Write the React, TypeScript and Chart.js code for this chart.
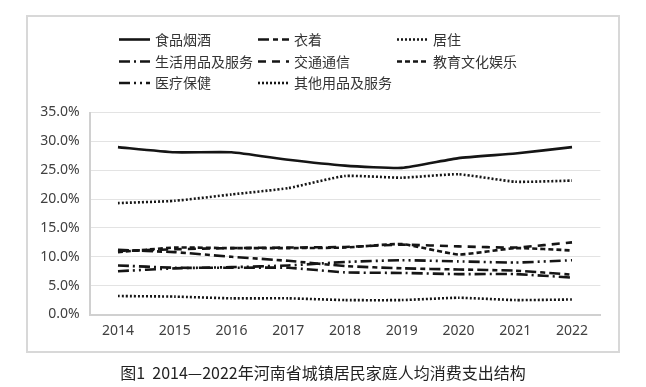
import React, { useEffect, useRef } from "react";
import { Chart, registerables } from "chart.js";

Chart.register(...registerables);

const years = ["2014", "2015", "2016", "2017", "2018", "2019", "2020", "2021", "2022"];
const food = [29.0, 28.1, 28.1, 26.8, 25.8, 25.4, 27.1, 27.9, 29.0];
const clothing = [11.2, 10.8, 10.0, 9.3, 8.4, 8.0, 7.8, 7.6, 6.9];
const housing = [19.3, 19.7, 20.8, 21.9, 24.0, 23.7, 24.3, 23.0, 23.2];
const household = [8.5, 8.1, 8.1, 8.1, 7.3, 7.2, 7.0, 7.0, 6.4];
const transport = [11.0, 11.3, 11.5, 11.6, 11.7, 12.1, 11.8, 11.6, 12.5];
const education = [10.8, 11.6, 11.5, 11.5, 11.6, 12.2, 10.4, 11.5, 11.1];
const medical = [7.5, 8.0, 8.2, 8.5, 9.1, 9.4, 9.2, 9.0, 9.4];
const other = [3.2, 3.1, 2.8, 2.8, 2.5, 2.5, 2.9, 2.5, 2.6];

const seriesNames = ["食品烟酒", "衣着", "居住", "生活用品及服务", "交通通信", "教育文化娱乐", "医疗保健", "其他用品及服务"];
const seriesData = [food, clothing, housing, household, transport, education, medical, other];
const dashes: number[][] = [
  [],
  [11, 4, 5, 4],
  [2, 2],
  [11, 4, 2, 4],
  [8, 6],
  [5, 3],
  [11, 4, 2, 4, 2, 4],
  [2, 2],
];

const yTicks = [0, 5, 10, 15, 20, 25, 30, 35];
const caption = "图1  2014—2022年河南省城镇居民家庭人均消费支出结构";

const FONT = "'Noto Sans CJK SC', 'Noto Sans', sans-serif";
const TICK_FONT = "'Noto Sans', 'Noto Sans CJK SC', sans-serif";
const LINE = "#151515";

const legendPlugin = {
  id: "gridLegend",
  afterDraw(chart: any) {
    const ctx = chart.ctx;
    const colX = [119, 258, 397];
    const rowY = [39.5, 61.5, 83];
    ctx.save();
    chart.data.datasets.forEach((ds: any, i: number) => {
      const col = i % 3;
      const row = Math.floor(i / 3);
      const x = colX[col];
      const y = rowY[row];
      ctx.beginPath();
      ctx.setLineDash(ds.borderDash || []);
      ctx.lineWidth = ds.borderWidth;
      ctx.strokeStyle = ds.borderColor;
      ctx.lineCap = "butt";
      ctx.moveTo(x, y);
      ctx.lineTo(x + 31, y);
      ctx.stroke();
      ctx.setLineDash([]);
      ctx.fillStyle = "#333333";
      ctx.font = `14px ${FONT}`;
      ctx.textBaseline = "middle";
      ctx.textAlign = "left";
      ctx.fillText(ds.label, x + 36, y);
    });
    ctx.restore();
  },
};

export default function App() {
  const ref = useRef<HTMLCanvasElement>(null);
  useEffect(() => {
    if (!ref.current) return;
    const chart = new Chart(ref.current, {
      type: "line",
      data: {
        labels: years,
        datasets: seriesNames.map((name, i) => ({
          label: name,
          data: seriesData[i],
          borderColor: LINE,
          backgroundColor: LINE,
          borderWidth: 2.6,
          borderDash: dashes[i],
          pointRadius: 0,
          pointHoverRadius: 0,
          tension: 0.15,
          fill: false,
        })),
      },
      options: {
        responsive: false,
        animation: false,
        events: [],
        layout: { padding: { left: 29.6, right: 45.6, top: 112.5, bottom: 42.5 } },
        plugins: { legend: { display: false }, tooltip: { enabled: false } },
        scales: {
          x: {
            type: "category",
            offset: true,
            grid: { display: false, drawTicks: false },
            border: { display: true, color: "#d0d0d0", width: 2 },
            ticks: { color: "#404040", font: { size: 14, family: TICK_FONT }, padding: 8, maxRotation: 0 },
            afterFit: (s: any) => { s.height = 30; },
          },
          y: {
            min: 0,
            max: 35,
            afterBuildTicks: (s: any) => { s.ticks = yTicks.map((v) => ({ value: v })); },
            grid: { color: "#e3e3e3", lineWidth: 1, drawTicks: false },
            border: { display: true, color: "#d0d0d0", width: 2 },
            ticks: {
              color: "#404040",
              font: { size: 14, family: TICK_FONT },
              padding: 10,
              callback: (v: any) => Number(v).toFixed(1) + "%",
            },
            afterFit: (s: any) => { s.width = 60; },
          },
        },
      },
      plugins: [legendPlugin],
    });
    return () => chart.destroy();
  }, []);

  return (
    <div style={{ position: "fixed", left: 0, top: 0, width: 646, height: 387, background: "#fff" }}>
      <div
        style={{
          position: "absolute",
          left: 26,
          top: 15,
          width: 590,
          height: 334,
          border: "2px solid #d8d8d8",
        }}
      />
      <canvas ref={ref} width={646} height={387} style={{ position: "absolute", left: 0, top: 0, width: 646, height: 387 }} />
      <div
        style={{
          position: "absolute",
          left: 0,
          top: 360,
          width: 646,
          textAlign: "center",
          fontFamily: FONT,
          fontSize: 16,
          lineHeight: "24px",
          color: "#222",
          whiteSpace: "pre",
        }}
      >
        {caption}
      </div>
    </div>
  );
}
